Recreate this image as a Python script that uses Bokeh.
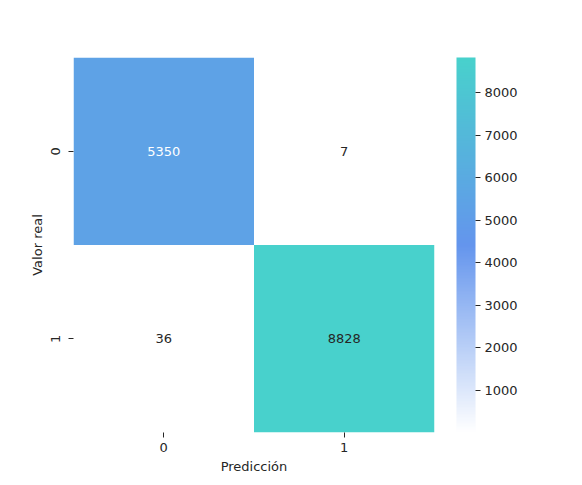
import numpy as np
from bokeh.plotting import figure
from bokeh.models import LinearColorMapper, ColorBar, FixedTicker, ColumnDataSource
from bokeh.embed import file_html
from bokeh.resources import INLINE
from bokeh.core.properties import value

# data
rows = [0, 0, 1, 1]          # Valor real
cols = [0, 1, 0, 1]          # Predicción
counts = [5350, 7, 36, 8828]
tick_labels = ["0", "1"]
cbar_ticks = [1000, 2000, 3000, 4000, 5000, 6000, 7000, 8000]

# colormap white -> cornflowerblue -> mediumturquoise
anchors = [(255, 255, 255), (100, 149, 237), (72, 209, 204)]
palette = []
for i in range(256):
    t = i / 255 * 2
    k = min(int(t), 1)
    f = t - k
    a, b = anchors[k], anchors[k + 1]
    c = tuple(int(round(a[j] + (b[j] - a[j]) * f)) for j in range(3))
    palette.append("#%02x%02x%02x" % c)

mapper = LinearColorMapper(palette=palette, low=min(counts), high=max(counts))

text_colors = ["white" if v > 4000 and v < 7000 else "#262626" for v in counts]
src = ColumnDataSource(dict(x=cols, y=rows, v=counts, t=[str(v) for v in counts], tc=text_colors))

p = figure(width=566, height=477, x_range=(-0.5, 1.5), y_range=(1.5, -0.5),
           output_backend="svg", toolbar_location=None,
           min_border_left=73, min_border_top=57, min_border_bottom=45, min_border_right=132)
p.outline_line_color = None
p.grid.visible = False
p.background_fill_color = "white"

p.rect(x="x", y="y", width=1, height=1, source=src,
       fill_color={"field": "v", "transform": mapper}, line_color=None)
p.text(x="x", y="y", text="t", source=src, text_color="tc",
       text_align="center", text_baseline="middle", text_font_size="13px",
       text_font=value("DejaVu Sans"))

for ax in (p.xaxis, p.yaxis):
    ax.ticker = FixedTicker(ticks=[0, 1])
    ax.major_label_overrides = {0: tick_labels[0], 1: tick_labels[1]}
    ax.axis_line_color = None
    ax.major_tick_in = 0
    ax.major_tick_out = 5
    ax.minor_tick_line_color = None
    ax.major_tick_line_color = "#262626"
    ax.major_label_text_font = "DejaVu Sans"
    ax.major_label_text_font_size = "13px"
    ax.major_label_text_color = "#262626"
    ax.axis_label_text_font = "DejaVu Sans"
    ax.axis_label_text_font_size = "13px"
    ax.axis_label_text_font_style = "normal"
    ax.axis_label_text_color = "#262626"

p.xaxis.axis_label = "Predicción"
p.yaxis.axis_label = "Valor real"
p.yaxis.major_label_orientation = "vertical"
p.yaxis.major_label_standoff = 9
p.xaxis.axis_label_standoff = 4
p.yaxis.axis_label_standoff = 3

cb = ColorBar(color_mapper=mapper, width=19, padding=0, margin=0, location=(22, 0),
              ticker=FixedTicker(ticks=cbar_ticks),
              major_tick_in=0, major_tick_out=5, major_tick_line_color="#262626",
              major_label_text_font="DejaVu Sans", major_label_text_font_size="13px",
              major_label_text_color="#262626", label_standoff=4,
              bar_line_color=None, border_line_color=None, background_fill_color=None)
p.add_layout(cb, "right")

open("out.html", "w").write(file_html(p, INLINE))
